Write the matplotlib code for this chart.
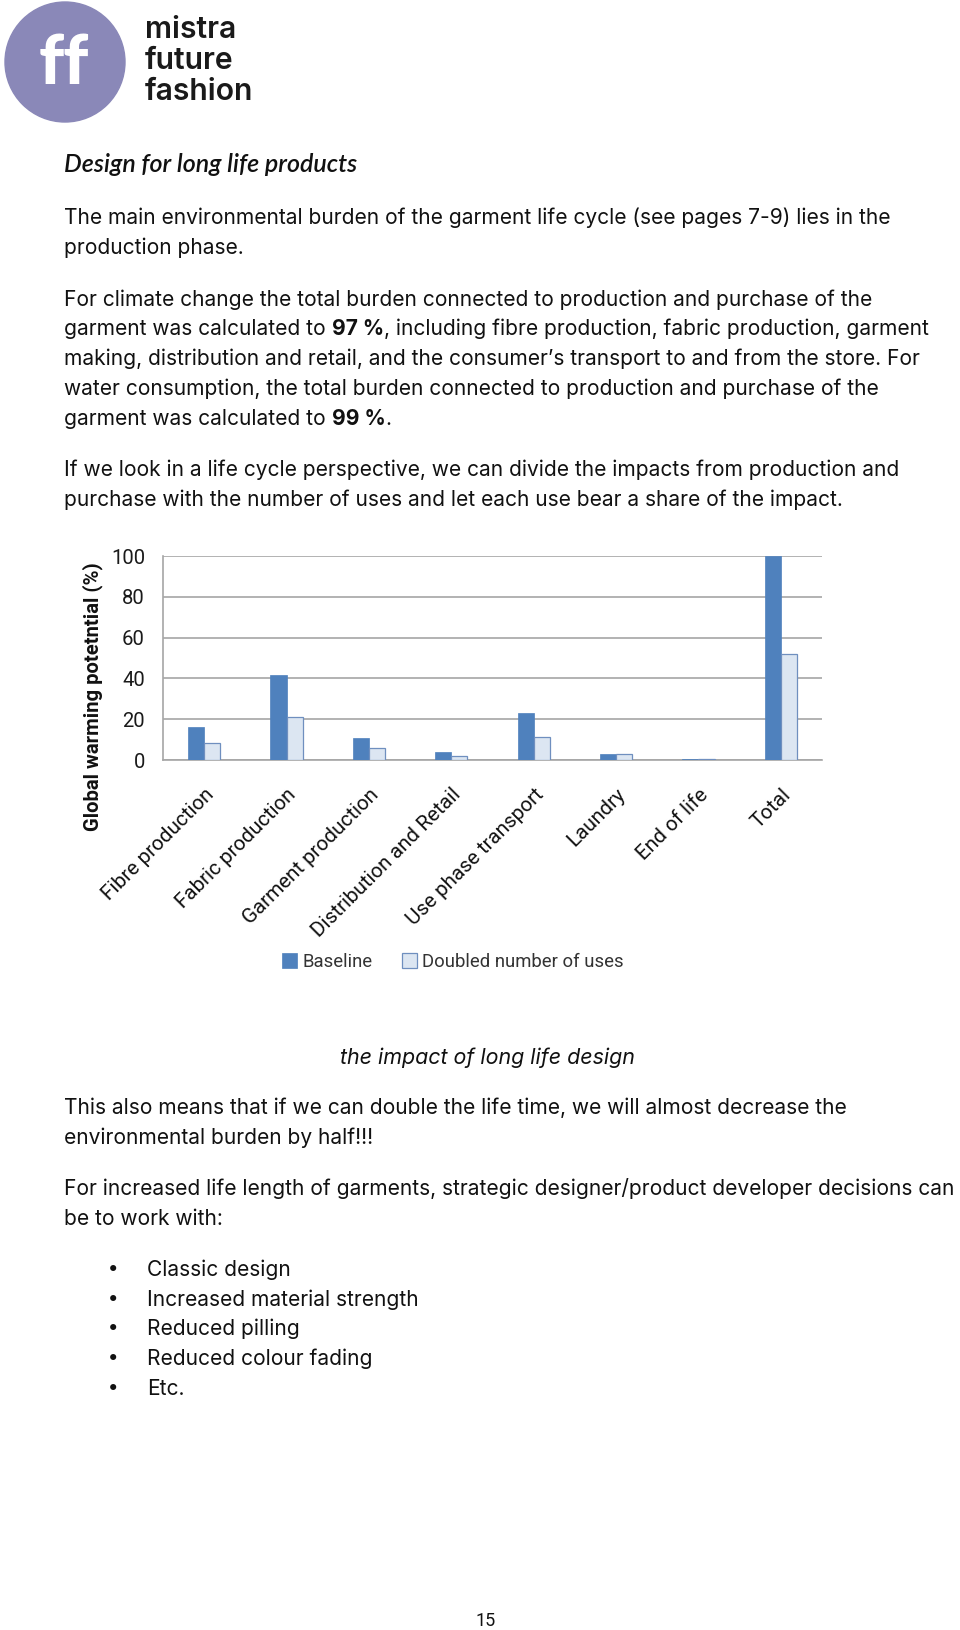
import matplotlib
matplotlib.use("Agg")
import matplotlib.pyplot as plt
import numpy as np
from matplotlib.patches import Circle

# ---------------- data ----------------
categories = ["Fibre production", "Fabric production", "Garment production",
              "Distribution and Retail", "Use phase transport", "Laundry",
              "End of life", "Total"]
baseline = [16.2, 41.7, 10.6, 3.8, 23.2, 3.1, 0.6, 100.0]
doubled = [8.3, 21.2, 5.7, 2.1, 11.4, 3.1, 0.3, 51.8]
series_names = ["Baseline", "Doubled number of uses"]
y_ticks = [0, 20, 40, 60, 80, 100]
y_label = "Global warming potetntial (%)"

heading = "Design for long life products"
para1 = ["The main environmental burden of the garment life cycle (see pages 7-9) lies in the",
         "production phase."]
para2 = [["For climate change the total burden connected to production and purchase of the"],
         ["garment was calculated to ", "**97 %", ", including fibre production, fabric production, garment"],
         ["making, distribution and retail, and the consumer\u2019s transport to and from the store. For"],
         ["water consumption, the total burden connected to production and purchase of the"],
         ["garment was calculated to ", "**99 %", "."]]
para3 = ["If we look in a life cycle perspective, we can divide the impacts from production and",
         "purchase with the number of uses and let each use bear a share of the impact."]
caption = "the impact of long life design"
para4 = ["This also means that if we can double the life time, we will almost decrease the",
         "environmental burden by half!!!"]
para5 = ["For increased life length of garments, strategic designer/product developer decisions can",
         "be to work with:"]
bullets = ["Classic design", "Increased material strength", "Reduced pilling",
           "Reduced colour fading", "Etc."]
page_number = "15"
logo_words = ["mistra", "future", "fashion"]

# ---------------- figure ----------------
W, H = 960, 1630
fig = plt.figure(figsize=(W / 100, H / 100), dpi=100)
bg = fig.add_axes([0, 0, 1, 1])
bg.set_xlim(0, W)
bg.set_ylim(H, 0)
bg.axis("off")
renderer = fig.canvas.get_renderer()

BODY = "Inter"
HEAD = "Lato"
CHART = "Roboto"


def fit_size(s, target, **kw):
    t = bg.text(0, 0, s, fontsize=10, **kw)
    w = t.get_window_extent(renderer).width
    t.remove()
    return 10 * target / w


body_fs = fit_size(para5[0], 894, family=BODY)
TXT = "#111111"


def line(y_center, pieces, x=64):
    prev = None
    for p in pieces:
        bold = p.startswith("**")
        s = p[2:] if bold else p
        fw = "bold" if bold else "normal"
        if prev is None:
            prev = bg.text(x, y_center + 6, s, fontsize=body_fs, family=BODY,
                           fontweight=fw, color=TXT, va="baseline", ha="left")
        else:
            prev = bg.annotate(s, xy=(1, 0), xycoords=prev, fontsize=body_fs,
                               family=BODY, fontweight=fw, color=TXT,
                               va="bottom", ha="left")


# logo
bg.add_patch(Circle((65, 62), 60, color="#8a88b8", zorder=1))
ff_fs = fit_size("ff", 50, family=HEAD, fontweight="black")
bg.text(64, 64, "ff", fontsize=ff_fs, family=HEAD, fontweight="black",
        color="white", ha="center", va="center", zorder=2)
logo_fs = fit_size("fashion", 108, family=BODY, fontweight="semibold")
for word, yb in zip(logo_words, [38, 69, 100]):
    bg.text(145, yb, word, fontsize=logo_fs, family=BODY, fontweight="semibold",
            color="#1a1a1a", va="baseline", ha="left")

# heading
hfs = fit_size(heading, 293, family=HEAD, style="italic", fontweight="semibold")
bg.text(64, 172, heading, fontsize=hfs, family=HEAD, style="italic",
        fontweight="semibold", color=TXT, va="baseline")

for yc, s in zip([218.5, 247.5], para1):
    line(yc, [s])
for yc, pcs in zip([299.5, 328.6, 358.8, 389, 419], para2):
    line(yc, pcs)
for yc, s in zip([470, 500], para3):
    line(yc, [s])

cfs = fit_size(caption, 295, family=BODY, style="italic")
bg.text(487, 1064, caption, fontsize=cfs, family=BODY, style="italic",
        color=TXT, ha="center", va="baseline")

for yc, s in zip([1107.6, 1137.8], para4):
    line(yc, [s])
for yc, s in zip([1188.8, 1218.9], para5):
    line(yc, [s])
for yc, s in zip([1270, 1300, 1329, 1359, 1389], bullets):
    bg.text(113, yc + 6, "\u2022", fontsize=body_fs, family="DejaVu Sans",
            color=TXT, ha="center", va="baseline")
    line(yc, [s], x=147)

bg.text(486, 1626, page_number, fontsize=13, family=CHART, color=TXT,
        ha="center", va="baseline")

# ---------------- chart ----------------
ax_l, ax_r, ax_t, ax_b = 163, 822, 556, 760
ax = fig.add_axes([ax_l / W, 1 - ax_b / H, (ax_r - ax_l) / W, (ax_b - ax_t) / H])
x = np.arange(len(categories))
bw = 0.196
blue = "#4f81bd"
light = "#dce6f2"
b1 = ax.bar(x - bw / 2, baseline, bw, color=blue, edgecolor=blue, linewidth=0.5,
            label=series_names[0], zorder=3)
b2 = ax.bar(x + bw / 2, doubled, bw, color=light, edgecolor="#6f8fbf", linewidth=0.9,
            label=series_names[1], zorder=3)
ax.set_xlim(-0.5, len(categories) - 0.5)
ax.set_ylim(0, 100)
ax.set_yticks(y_ticks)
ax.yaxis.grid(True, color="#a6a6a6", linewidth=1.2, zorder=0)
ax.set_axisbelow(True)
for sp in ["top", "right"]:
    ax.spines[sp].set_visible(False)
ax.spines["left"].set_color("#a6a6a6")
ax.spines["bottom"].set_color("#a6a6a6")
ax.spines["left"].set_linewidth(1.2)
ax.spines["bottom"].set_linewidth(1.2)
ax.spines["left"].set_zorder(1)

tick_fs = fit_size("100", 34, family=CHART)
ax.tick_params(axis="y", length=0, pad=13, labelsize=tick_fs, labelcolor="#1a1a1a")
for lab in ax.get_yticklabels():
    lab.set_family(CHART)

xl_fs = fit_size("Fibre production", 150, family=CHART)
ax.set_xticks(x)
ax.set_xticklabels(categories, rotation=45, ha="right", va="top",
                   rotation_mode="anchor", fontsize=xl_fs, family=CHART, color="#111111")
ax.tick_params(axis="x", length=0, pad=18)

yl_fs = fit_size(y_label, 270, family=CHART, fontweight="bold")
ax.set_ylabel(y_label, fontsize=yl_fs, family=CHART, fontweight="bold",
              color="#111111", va="center")
ax.yaxis.set_label_coords((93 - ax_l) / (ax_r - ax_l), (ax_b - 697) / (ax_b - ax_t))

leg_fs = fit_size("Baseline", 70, family=CHART)
ax.legend(handles=[b1, b2], loc="center", bbox_to_anchor=(453 / W, 1 - 962 / H),
          bbox_transform=fig.transFigure, ncol=2, frameon=False,
          prop={"family": CHART, "size": leg_fs}, handlelength=0.8, handleheight=0.8,
          handletextpad=0.3, columnspacing=1.6, labelcolor="#333333")

fig.savefig("out.png", dpi=100)
